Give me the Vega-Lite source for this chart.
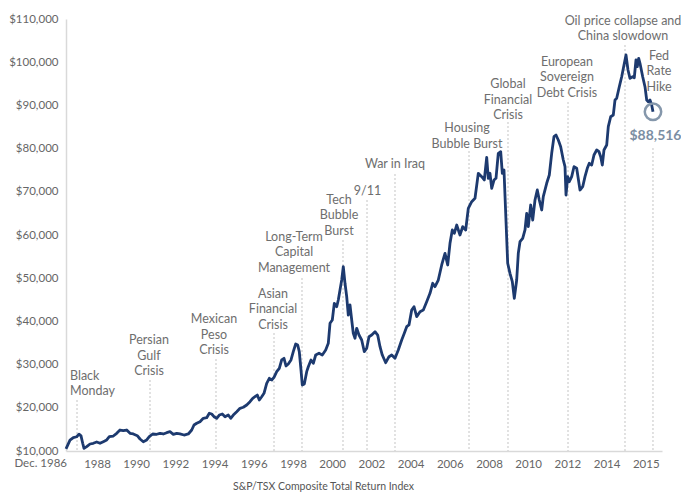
{
  "$schema": "https://vega.github.io/schema/vega-lite/v6.json",
  "width": 596,
  "height": 432,
  "autosize": "none",
  "padding": {"left": 66, "top": 19, "right": 19, "bottom": 42},
  "background": "white",
  "config": {"view": {"stroke": null}, "font": "Lato", "axis": {"labelOverlap": false, "labelBound": false, "labelFlush": false}},
  "datasets": {
    "series": [
      {"t":1986.418,"v":10500},{"t":1986.622,"v":12500},{"t":1986.791,"v":13100},{"t":1986.964,"v":13300},{"t":1987.081,"v":13900},{"t":1987.184,"v":13500},{"t":1987.270,"v":11800},{"t":1987.337,"v":10600},{"t":1987.474,"v":11000},{"t":1987.643,"v":11620},{"t":1987.811,"v":11780},{"t":1987.985,"v":12080},{"t":1988.153,"v":11780},{"t":1988.321,"v":12150},{"t":1988.495,"v":12550},{"t":1988.628,"v":13310},{"t":1988.832,"v":13470},{"t":1989.005,"v":14100},{"t":1989.173,"v":14860},{"t":1989.342,"v":14700},{"t":1989.515,"v":14860},{"t":1989.684,"v":14100},{"t":1989.852,"v":13940},{"t":1990.056,"v":13540},{"t":1990.194,"v":12780},{"t":1990.362,"v":12150},{"t":1990.536,"v":12550},{"t":1990.668,"v":13310},{"t":1990.842,"v":13940},{"t":1991.046,"v":13870},{"t":1991.214,"v":14100},{"t":1991.383,"v":13940},{"t":1991.556,"v":14240},{"t":1991.724,"v":14470},{"t":1991.893,"v":13870},{"t":1992.066,"v":14100},{"t":1992.235,"v":13940},{"t":1992.439,"v":13700},{"t":1992.658,"v":13940},{"t":1992.832,"v":14860},{"t":1992.949,"v":16020},{"t":1993.087,"v":16410},{"t":1993.255,"v":16780},{"t":1993.423,"v":17570},{"t":1993.597,"v":17710},{"t":1993.730,"v":18730},{"t":1993.852,"v":18570},{"t":1993.969,"v":17940},{"t":1994.107,"v":17570},{"t":1994.240,"v":18330},{"t":1994.393,"v":18570},{"t":1994.531,"v":17940},{"t":1994.699,"v":18330},{"t":1994.821,"v":17570},{"t":1994.954,"v":18330},{"t":1995.128,"v":19100},{"t":1995.296,"v":19880},{"t":1995.464,"v":20120},{"t":1995.638,"v":20650},{"t":1995.806,"v":21410},{"t":1995.944,"v":22200},{"t":1996.061,"v":22570},{"t":1996.179,"v":22960},{"t":1996.281,"v":21800},{"t":1996.403,"v":22570},{"t":1996.520,"v":23360},{"t":1996.658,"v":25670},{"t":1996.791,"v":26830},{"t":1996.913,"v":26440},{"t":1997.030,"v":27060},{"t":1997.168,"v":28360},{"t":1997.301,"v":29140},{"t":1997.423,"v":31070},{"t":1997.541,"v":31460},{"t":1997.643,"v":29680},{"t":1997.760,"v":30140},{"t":1997.898,"v":31070},{"t":1998.015,"v":32990},{"t":1998.138,"v":34770},{"t":1998.240,"v":34540},{"t":1998.321,"v":32990},{"t":1998.408,"v":28750},{"t":1998.474,"v":25280},{"t":1998.577,"v":25510},{"t":1998.699,"v":28360},{"t":1998.781,"v":29510},{"t":1998.918,"v":31070},{"t":1999.036,"v":30300},{"t":1999.158,"v":32220},{"t":1999.327,"v":32620},{"t":1999.495,"v":32220},{"t":1999.668,"v":33380},{"t":1999.801,"v":34930},{"t":1999.888,"v":39560},{"t":2000.005,"v":40320},{"t":2000.107,"v":44190},{"t":2000.230,"v":43400},{"t":2000.311,"v":44950},{"t":2000.398,"v":47270},{"t":2000.485,"v":49580},{"t":2000.566,"v":52660},{"t":2000.653,"v":48820},{"t":2000.740,"v":45720},{"t":2000.821,"v":41480},{"t":2000.908,"v":43800},{"t":2000.995,"v":40320},{"t":2001.076,"v":37250},{"t":2001.163,"v":36090},{"t":2001.250,"v":38400},{"t":2001.367,"v":36850},{"t":2001.505,"v":35690},{"t":2001.638,"v":32990},{"t":2001.760,"v":33770},{"t":2001.878,"v":36460},{"t":2002.015,"v":36850},{"t":2002.184,"v":37620},{"t":2002.321,"v":36850},{"t":2002.439,"v":34140},{"t":2002.556,"v":32220},{"t":2002.730,"v":30440},{"t":2002.898,"v":31830},{"t":2003.036,"v":32220},{"t":2003.204,"v":31460},{"t":2003.372,"v":33380},{"t":2003.546,"v":35690},{"t":2003.679,"v":37250},{"t":2003.801,"v":38770},{"t":2003.918,"v":39170},{"t":2004.056,"v":42640},{"t":2004.173,"v":43400},{"t":2004.311,"v":41090},{"t":2004.480,"v":42250},{"t":2004.648,"v":42640},{"t":2004.821,"v":44560},{"t":2004.990,"v":46510},{"t":2005.128,"v":48820},{"t":2005.245,"v":48030},{"t":2005.413,"v":49580},{"t":2005.587,"v":53060},{"t":2005.755,"v":55760},{"t":2005.893,"v":53060},{"t":2006.010,"v":58080},{"t":2006.128,"v":61160},{"t":2006.230,"v":60390},{"t":2006.352,"v":62310},{"t":2006.520,"v":60000},{"t":2006.658,"v":61920},{"t":2006.811,"v":61160},{"t":2006.944,"v":66180},{"t":2007.117,"v":67710},{"t":2007.286,"v":68500},{"t":2007.454,"v":74280},{"t":2007.628,"v":73500},{"t":2007.760,"v":72730},{"t":2007.883,"v":77990},{"t":2007.964,"v":73130},{"t":2008.051,"v":74280},{"t":2008.138,"v":70810},{"t":2008.255,"v":72730},{"t":2008.357,"v":73130},{"t":2008.474,"v":78910},{"t":2008.597,"v":79280},{"t":2008.679,"v":74280},{"t":2008.765,"v":75050},{"t":2008.852,"v":65020},{"t":2008.954,"v":53450},{"t":2009.071,"v":51130},{"t":2009.189,"v":49190},{"t":2009.291,"v":45350},{"t":2009.413,"v":49580},{"t":2009.495,"v":55760},{"t":2009.582,"v":58450},{"t":2009.719,"v":59240},{"t":2009.837,"v":61160},{"t":2009.923,"v":65020},{"t":2010.005,"v":61920},{"t":2010.128,"v":66940},{"t":2010.230,"v":63470},{"t":2010.347,"v":68100},{"t":2010.464,"v":70420},{"t":2010.566,"v":68100},{"t":2010.689,"v":65790},{"t":2010.770,"v":68870},{"t":2010.944,"v":71970},{"t":2011.077,"v":73890},{"t":2011.199,"v":78910},{"t":2011.316,"v":82760},{"t":2011.418,"v":83150},{"t":2011.536,"v":81990},{"t":2011.658,"v":80440},{"t":2011.791,"v":77360},{"t":2011.878,"v":75810},{"t":2011.929,"v":69260},{"t":2012.015,"v":73500},{"t":2012.097,"v":72340},{"t":2012.219,"v":73500},{"t":2012.337,"v":75810},{"t":2012.474,"v":75440},{"t":2012.643,"v":70420},{"t":2012.781,"v":71180},{"t":2012.898,"v":73500},{"t":2013.015,"v":75440},{"t":2013.117,"v":76600},{"t":2013.240,"v":76200},{"t":2013.357,"v":78520},{"t":2013.495,"v":79680},{"t":2013.612,"v":79280},{"t":2013.699,"v":78130},{"t":2013.781,"v":76200},{"t":2013.867,"v":79680},{"t":2014.005,"v":80830},{"t":2014.087,"v":85070},{"t":2014.209,"v":87380},{"t":2014.342,"v":87780},{"t":2014.429,"v":91250},{"t":2014.515,"v":91640},{"t":2014.648,"v":94330},{"t":2014.770,"v":96640},{"t":2014.888,"v":99350},{"t":2014.990,"v":101670},{"t":2015.092,"v":98190},{"t":2015.194,"v":96270},{"t":2015.332,"v":96640},{"t":2015.413,"v":96400},{"t":2015.500,"v":100510},{"t":2015.566,"v":98960},{"t":2015.638,"v":100900},{"t":2015.704,"v":99740},{"t":2015.842,"v":96640},{"t":2015.959,"v":94330},{"t":2016.046,"v":91250},{"t":2016.128,"v":90860},{"t":2016.214,"v":91250},{"t":2016.301,"v":90090},{"t":2016.367,"v":88516}
    ],
    "events": [
      {"event":"Black\nMonday","t":1986.980,"v":21805,"tx":1986.622,"ty":25741,"side":"left"},
      {"event":"Persian\nGulf\nCrisis","t":1990.704,"v":26435,"tx":1990.653,"ty":34005,"side":"center"},
      {"event":"Mexican\nPeso\nCrisis","t":1994.071,"v":31296,"tx":1993.969,"ty":38866,"side":"center"},
      {"event":"Asian\nFinancial\nCrisis","t":1997.031,"v":37315,"tx":1996.980,"ty":44792,"side":"center"},
      {"event":"Long-Term\nCapital\nManagement","t":1998.459,"v":50046,"tx":1998.051,"ty":57917,"side":"center"},
      {"event":"Tech\nBubble\nBurst","t":2000.551,"v":58842,"tx":2000.347,"ty":66482,"side":"center"},
      {"event":"9/11","t":2001.776,"v":68101,"tx":2001.801,"ty":68565,"side":"center"},
      {"event":"War in Iraq","t":2003.204,"v":74120,"tx":2003.204,"ty":74815,"side":"center"},
      {"event":"Housing\nBubble Burst","t":2006.980,"v":79444,"tx":2006.878,"ty":83148,"side":"center"},
      {"event":"Global\nFinancial\nCrisis","t":2008.969,"v":86157,"tx":2008.969,"ty":93333,"side":"center"},
      {"event":"European\nSovereign\nDebt Crisis","t":2012.031,"v":90787,"tx":2011.980,"ty":98426,"side":"center"},
      {"event":"Oil price collapse and\nChina slowdown","t":2014.939,"v":103981,"tx":2014.837,"ty":107917,"side":"center"},
      {"event":"Fed\nRate\nHike","t":2016.367,"v":80138,"tx":2016.673,"ty":99815,"side":"center"}
    ],
    "last": [
      {"t":2016.367,"v":88516,"lt":2016.495,"lv":82916,"label":"$88,516"}
    ],
    "start": [
      {"t":1986.418,"v":10000,"label":"Dec. 1986"}
    ]
  },
  "layer": [
    {
      "data": {"name": "events"},
      "mark": {"type": "rule", "color": "#c4c4c4", "strokeWidth": 1, "strokeDash": [2, 2]},
      "encoding": {
        "x": {"field": "t", "type": "quantitative", "scale": {"domain": [1986.418, 2016.827], "nice": false, "zero": false},
              "title": "S&P/TSX Composite Total Return Index",
              "axis": {
                "values": [1988, 1990, 1992, 1994, 1996, 1998, 2000, 2002, 2004, 2006, 2008, 2010, 2012, 2014, 2016],
                "labelExpr": "datum.value > 2015 ? '2015' : format(datum.value, 'd')",
                "grid": false, "ticks": false, "domainColor": "#d9d9d9", "domainWidth": 1.5,
                "labelColor": "#666666", "labelFontSize": 11.5, "labelPadding": 7, "labelOverlap": false, "labelFlush": false, "labelBound": false,
                "titleColor": "#555555", "titleFontSize": 10.5, "titleFontWeight": "normal", "titlePadding": 12, "titleX": 257, "titleAlign": "center"
              }},
        "y": {"field": "v", "type": "quantitative", "scale": {"domain": [10000, 110000], "nice": false, "zero": false},
              "title": null,
              "axis": {
                "values": [10000, 20000, 30000, 40000, 50000, 60000, 70000, 80000, 90000, 100000, 110000],
                "format": "$,d", "grid": false, "ticks": false, "domainColor": "#d9d9d9", "domainWidth": 1.5,
                "labelColor": "#666666", "labelFontSize": 11.5, "labelPadding": 8
              }},
        "y2": {"datum": 10000}
      }
    },
    {
      "data": {"name": "series"},
      "mark": {"type": "line", "color": "#1d3a6f", "strokeWidth": 2.8, "strokeJoin": "round"},
      "encoding": {
        "x": {"field": "t", "type": "quantitative", "title": "S&P/TSX Composite Total Return Index"},
        "y": {"field": "v", "type": "quantitative", "title": null}
      }
    },
    {
      "data": {"name": "events"},
      "transform": [{"filter": "datum.side == 'center'"}],
      "mark": {"type": "text", "align": "center", "baseline": "bottom", "lineBreak": "\n", "lineHeight": 15.5, "fontSize": 12.5, "color": "#6e6e6e"},
      "encoding": {
        "x": {"field": "tx", "type": "quantitative", "title": "S&P/TSX Composite Total Return Index"},
        "y": {"field": "ty", "type": "quantitative", "title": null},
        "text": {"field": "event"}
      }
    },
    {
      "data": {"name": "events"},
      "transform": [{"filter": "datum.side == 'left'"}],
      "mark": {"type": "text", "align": "left", "baseline": "bottom", "lineBreak": "\n", "lineHeight": 15.5, "fontSize": 12.5, "color": "#6e6e6e"},
      "encoding": {
        "x": {"field": "tx", "type": "quantitative", "title": "S&P/TSX Composite Total Return Index"},
        "y": {"field": "ty", "type": "quantitative", "title": null},
        "text": {"field": "event"}
      }
    },
    {
      "data": {"name": "start"},
      "mark": {"type": "text", "align": "right", "baseline": "top", "dx": 1, "dy": 7, "fontSize": 11.5, "color": "#666666"},
      "encoding": {
        "x": {"field": "t", "type": "quantitative", "title": "S&P/TSX Composite Total Return Index"},
        "y": {"field": "v", "type": "quantitative", "title": null},
        "text": {"field": "label"}
      }
    },
    {
      "data": {"name": "last"},
      "mark": {"type": "point", "shape": "circle", "filled": false, "size": 270, "strokeWidth": 2.5, "color": "#8597ab", "opacity": 1},
      "encoding": {
        "x": {"field": "t", "type": "quantitative", "title": "S&P/TSX Composite Total Return Index"},
        "y": {"field": "v", "type": "quantitative", "title": null}
      }
    },
    {
      "data": {"name": "last"},
      "mark": {"type": "text", "align": "center", "baseline": "middle", "fontSize": 14, "fontWeight": "bold", "color": "#7b8ea3"},
      "encoding": {
        "x": {"field": "lt", "type": "quantitative", "title": "S&P/TSX Composite Total Return Index"},
        "y": {"field": "lv", "type": "quantitative", "title": null},
        "text": {"field": "label"}
      }
    }
  ]
}
